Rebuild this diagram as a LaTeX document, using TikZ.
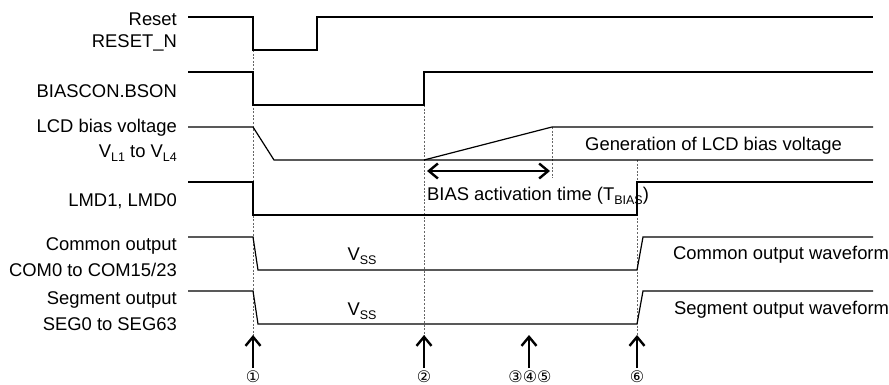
\documentclass[tikz,border=0pt]{standalone}
\usepackage{fontspec}
\setmainfont{Liberation Sans}
\newfontfamily\circfont{DejaVu Sans}
\usetikzlibrary{arrows.meta}
\newcommand\sbs[1]{\raisebox{-3.5pt}{\fontsize{12.5}{12.5}\selectfont #1}}
\begin{document}
\begin{tikzpicture}[x=1pt,y=-1pt,
  wave/.style={line width=1.2pt,black},
  guide/.style={line width=0.7pt,gray!80!black,dash pattern=on 2pt off 1.6pt},
  lbl/.style={font=\fontsize{18.4}{21}\selectfont,inner sep=0pt,anchor=east},
  txt/.style={font=\fontsize{18.4}{21}\selectfont,inner sep=0pt},
  barb/.tip={Straight Barb[length=9pt,width=15pt,line width=2.4pt]},
  evarrow/.style={line width=2.4pt,-barb},
  num/.style={font=\circfont\fontsize{16}{16}\selectfont,inner sep=0pt}]
\useasboundingbox (0,0) rectangle (889,385);
% guides
\draw[guide] (253,50) -- (253,338);
\draw[guide] (424,105) -- (424,338);
\draw[guide] (552,127) -- (552,178);
\draw[guide] (637,160) -- (637,338);
% labels
\node[lbl] (l1) at (177,19) {Reset};
\node[lbl] (l2) at (177,43) {RESET\_N};
\node[lbl] (l3) at (177,91) {BIASCON.BSON};
\node[lbl] (l4) at (177,128) {LCD bias voltage};
\node[lbl] (l5) at (177,153) {V\sbs{L1} to V\sbs{L4}};
\node[lbl] (l6) at (177,201) {LMD1, LMD0};
\node[lbl] (l7) at (177,246) {Common output};
\node[lbl] (l8) at (177,270) {COM0 to COM15/23};
\node[lbl] (l9) at (177,300) {Segment output};
\node[lbl] (l10) at (177,324) {SEG0 to SEG63};
% waveforms
\draw[wave] (188,17) -- (253,17) -- (253,50) -- (317,50) -- (317,17) -- (873,17);
\draw[wave] (188,72) -- (253,72) -- (253,105) -- (424,105) -- (424,72) -- (873,72);
\draw[wave] (188,127) -- (253,127) -- (274,160) -- (873,160);
\draw[wave] (424,160) -- (552,127) -- (873,127);
\draw[wave] (188,182) -- (253,182) -- (253,215) -- (637,215) -- (637,182) -- (873,182);
\draw[wave] (188,237) -- (253,237) -- (258,270) -- (637,270) -- (643,237) -- (873,237);
\draw[wave] (188,291) -- (253,291) -- (258,324) -- (637,324) -- (643,291) -- (873,291);
% double arrow
\coordinate (ba) at (427,171);
\coordinate (bb) at (550,171);
\draw[line width=2.4pt,barb-barb] (ba) -- (bb);
% texts
\node[txt,anchor=west] (gen) at (585,146) {Generation of LCD bias voltage};
\node[txt,anchor=west] (bat) at (427,196) {BIAS activation time (T\sbs{BIAS})};
\node[txt] (vss1) at (362,256) {V\sbs{SS}};
\node[txt] (vss2) at (362,311) {V\sbs{SS}};
\node[txt,anchor=west] (cow) at (673,255) {Common output waveform};
\node[txt,anchor=west] (sow) at (674,310) {Segment output waveform};
% event arrows
\coordinate (a1b) at (253,368); \coordinate (a1t) at (253,335);
\coordinate (a2b) at (424,368); \coordinate (a2t) at (424,335);
\coordinate (a3b) at (529,368); \coordinate (a3t) at (529,335);
\coordinate (a4b) at (637,368); \coordinate (a4t) at (637,335);
\draw[evarrow] (a1b) -- (a1t);
\draw[evarrow] (a2b) -- (a2t);
\draw[evarrow] (a3b) -- (a3t);
\draw[evarrow] (a4b) -- (a4t);
\node[num] (n1) at (253,377) {①};
\node[num] (n2) at (424,377) {②};
\node[num] (n3) at (530,377) {③④⑤};
\node[num] (n4) at (637,377) {⑥};
\end{tikzpicture}
\end{document}
